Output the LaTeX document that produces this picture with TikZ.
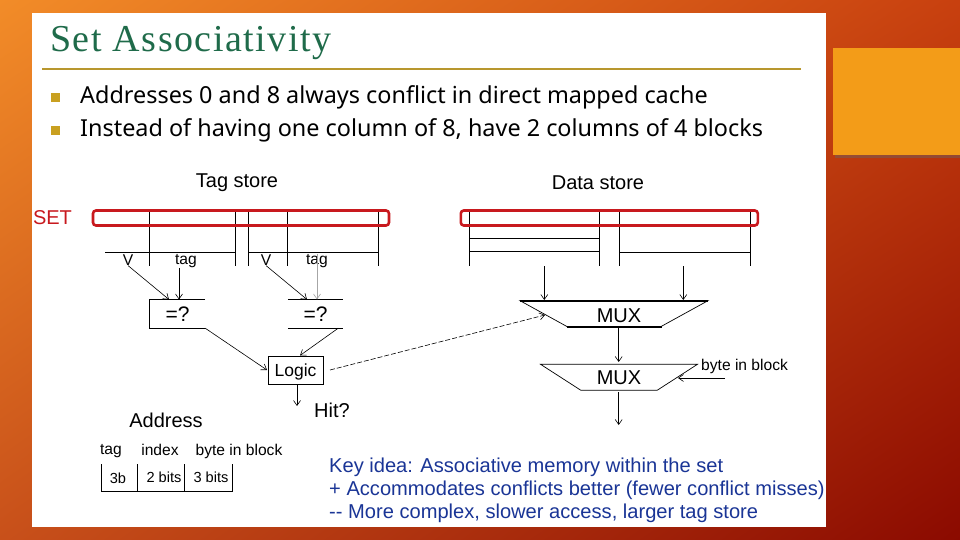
\documentclass[tikz,border=0pt]{standalone}
\usepackage{xcolor}
\usepackage{fontspec}
\usetikzlibrary{shapes.geometric, arrows.meta, positioning, calc, shadings}
\setmainfont{Liberation Sans}
\newfontfamily\titlefont[LetterSpace=4]{Liberation Serif}
\newfontfamily\bulletfont{Noto Sans}
\definecolor{slideOrange}{HTML}{F39C18}
\definecolor{titleGreen}{HTML}{1F6B4A}
\definecolor{ruleGold}{HTML}{B8972E}
\definecolor{bulletGold}{HTML}{C9A020}
\definecolor{setRed}{HTML}{C8191E}
\definecolor{ideaBlue}{HTML}{1A3596}
\definecolor{bgTopLeft}{HTML}{F28C28}
\definecolor{bgTopRight}{HTML}{C8400F}
\definecolor{bgLowLeft}{HTML}{C8501A}
\definecolor{bgLowRight}{HTML}{8B0A00}
\newcommand{\pxfont}[1]{\fontsize{#1}{#1}\selectfont}

\begin{document}
\begin{tikzpicture}[
    x=1pt, y=-1pt,
    arrow/.style={-{Straight Barb[length=5pt, width=7pt]}, line width=0.6pt},
    setbox/.style={draw=setRed, line width=2.6pt, rounded corners=3pt, minimum height=15pt, inner sep=0pt},
    muxbox/.style={draw, trapezium, trapezium stretches=true, shape border rotate=180, inner sep=1pt, font=\pxfont{20}},
    bullettext/.style={anchor=base west, inner sep=0pt, font=\bulletfont\pxfont{23.4}},
    bulletmark/.style={fill=bulletGold, minimum size=9pt, inner sep=0pt},
    ideatext/.style={anchor=base west, inner sep=0pt, text=ideaBlue, font=\pxfont{20.1}},
    bigtext/.style={inner sep=0pt, font=\pxfont{20}},
    smalltext/.style={inner sep=0pt, font=\pxfont{15.6}},
    bitstext/.style={inner sep=0pt, font=\pxfont{14.6}},
    storeline/.style={line width=0.7pt},
]
    % Slide
    \shade[upper left=bgTopLeft, upper right=bgTopRight, lower left=bgLowLeft, lower right=bgLowRight] (0,0) rectangle (960,540);
    \fill[black!60, opacity=0.45] (835,50) rectangle (960,158);
    \fill[slideOrange] (833,48) rectangle (960,155);
    \fill[white] (32,13) rectangle (826,527);

    % Heading
    \node[anchor=base west, inner sep=0pt, text=titleGreen, font=\titlefont\pxfont{38}] (title) at (50,52) {Set Associativity};
    \draw[ruleGold, line width=1.4pt] (42,69) -- (801,69);
    \node[bulletmark] (b1) at (55.5,97.5) {};
    \node[bulletmark] (b2) at (55.5,130.5) {};
    \node[bullettext] (t1) at (80,104) {Addresses 0 and 8 always conflict in direct mapped cache};
    \node[bullettext] (t2) at (80,137) {Instead of having one column of 8, have 2 columns of 4 blocks};

    % Tag store
    \node[bigtext] (tagstore) at (237,183) {Tag store};
    \node[bigtext, text=setRed] (settext) at (52.5,218) {SET};
    \foreach \x in {149,235.7,248,287,378}
        \draw[storeline] (\x,210) -- (\x,265.7);
    \draw[storeline] (105,252.3) -- (235.7,252.3);
    \draw[storeline] (248,252.3) -- (378,252.3);
    \node[setbox, minimum width=296pt] (settag) at (241,218) {};
    \node[smalltext] (v1) at (128,260) {V};
    \node[smalltext] (tag1) at (186,261) {tag};
    \node[smalltext] (v2) at (266,260) {V};
    \node[smalltext] (tag2) at (317,261) {tag};

    % Data store
    \node[bigtext] (datastore) at (598,183) {Data store};
    \foreach \x in {469.3,599.3,619.3,750.3}
        \draw[storeline] (\x,210) -- (\x,265.7);
    \draw[storeline] (469.3,238.3) -- (599.3,238.3);
    \draw[storeline] (469.3,251) -- (599.3,251);
    \draw[storeline] (619.3,252.3) -- (750.3,252.3);
    \node[setbox, minimum width=297pt] (setdata) at (609.3,218) {};

    % Comparators
    \node[minimum width=55pt, minimum height=28pt, inner sep=0pt, font=\pxfont{21}] (cmp1) at (177.5,314) {=?};
    \node[minimum width=55pt, minimum height=28pt, inner sep=0pt, font=\pxfont{21}] (cmp2) at (315.5,314) {=?};
    \draw[storeline] (cmp1.north east) -- (cmp1.north west) -- (cmp1.south west) -- (cmp1.south east);
    \draw[storeline] (cmp2.north west) -- (cmp2.north east);
    \draw[storeline] (cmp2.south west) -- (cmp2.south east);

    % Logic
    \node[draw, line width=0.7pt, minimum width=55pt, minimum height=28pt, inner sep=0pt, font=\pxfont{17.5}] (logic) at (295.5,370) {\raisebox{-2pt}[\height][\depth]{Logic}};
    \node[bigtext] (hit) at (332,410) {Hit?};
    \coordinate (hitend) at (297,406);

    % Muxes
    \node[muxbox, line width=0.7pt, trapezium angle=29.2, minimum width=188pt, minimum height=26pt] (mux1) at (614,313.7) {\hspace*{10pt}\raisebox{-2.5pt}[\height][\depth]{MUX}};
    \draw[line width=1.8pt] (520,300.7) -- (708,300.7);
    \draw[line width=1.8pt] (566.7,326.7) -- (661.7,326.7);
    \node[muxbox, line width=0.7pt, trapezium angle=33, minimum width=158pt, minimum height=26pt] (mux2) at (619,377.3) {MUX};
    \node[smalltext, anchor=west] (byteblock) at (701,366) {byte in block};

    % Address
    \node[bigtext] (address) at (166,420) {Address};
    \node[smalltext, anchor=base] (addrtag) at (111,454) {tag};
    \node[smalltext, anchor=base] (addrindex) at (160,455) {index};
    \node[smalltext, anchor=base] (addrbyte) at (239,455) {byte in block};
    \draw[storeline] (101.7,464) -- (101.7,491.7) -- (232.7,491.7) -- (232.7,464);
    \draw[storeline] (137.7,464) -- (137.7,491.7);
    \draw[storeline] (184.7,464) -- (184.7,491.7);
    \node[bitstext] (bits1) at (118,478) {3b};
    \node[bitstext] (bits2) at (164,477) {2 bits};
    \node[bitstext] (bits3) at (211,477) {3 bits};

    % Key idea
    \node[ideatext] (idea1) at (329,472) {Key idea: Associative memory within the set};
    \node[ideatext] (idea2) at (329,495) {+ Accommodates conflicts better (fewer conflict misses)};
    \node[ideatext] (idea3) at (329,518) {-{}- More complex, slower access, larger tag store};

    % End points
    \coordinate (in1) at (169,299.5);
    \coordinate (in2) at (179,299.5);
    \coordinate (in3) at (307,299.5);
    \coordinate (in4) at (317,299.5);
    \coordinate (d1) at (544.3,266);
    \coordinate (d2) at (683.3,266);
    \coordinate (m1) at (544.3,300);
    \coordinate (m2) at (683.3,300);
    \coordinate (selin) at (545,315);
    \coordinate (selout) at (330,370);
    \coordinate (sel2a) at (725,378);
    \coordinate (sel2b) at (678,378);
    \coordinate (outtop) at (618.7,328);
    \coordinate (outmid) at (618.7,362);
    \coordinate (outlow) at (618.7,392);
    \coordinate (outend) at (618.7,425);
    \coordinate (logicin) at (267,370);
    \coordinate (logictop) at (300,355.5);
    \coordinate (hitstart) at (297,384);

    \draw[arrow] (v1.south) -- (in1);
    \draw[arrow] (tag1.south -| in2) -- (in2);
    \draw[arrow] (v2.south) -- (in3);
    \draw[arrow, black!35] (tag2.north) -- (in4);
    \draw[arrow] (cmp1.south east) -- (logicin);
    \draw[arrow] ($(cmp2.south east)+(-5,0)$) -- (logictop);
    \draw[arrow] (hitstart) -- (hitend);
    \draw[arrow] (d1) -- (m1);
    \draw[arrow] (d2) -- (m2);
    \draw[arrow, dash pattern=on 5pt off 2pt] (selout) -- (selin);
    \draw[arrow] (outtop) -- (outmid);
    \draw[arrow] (outlow) -- (outend);
    \draw[arrow] (sel2a) -- (sel2b);
    \useasboundingbox (0,0) rectangle (960,540);
\end{tikzpicture}
\end{document}
